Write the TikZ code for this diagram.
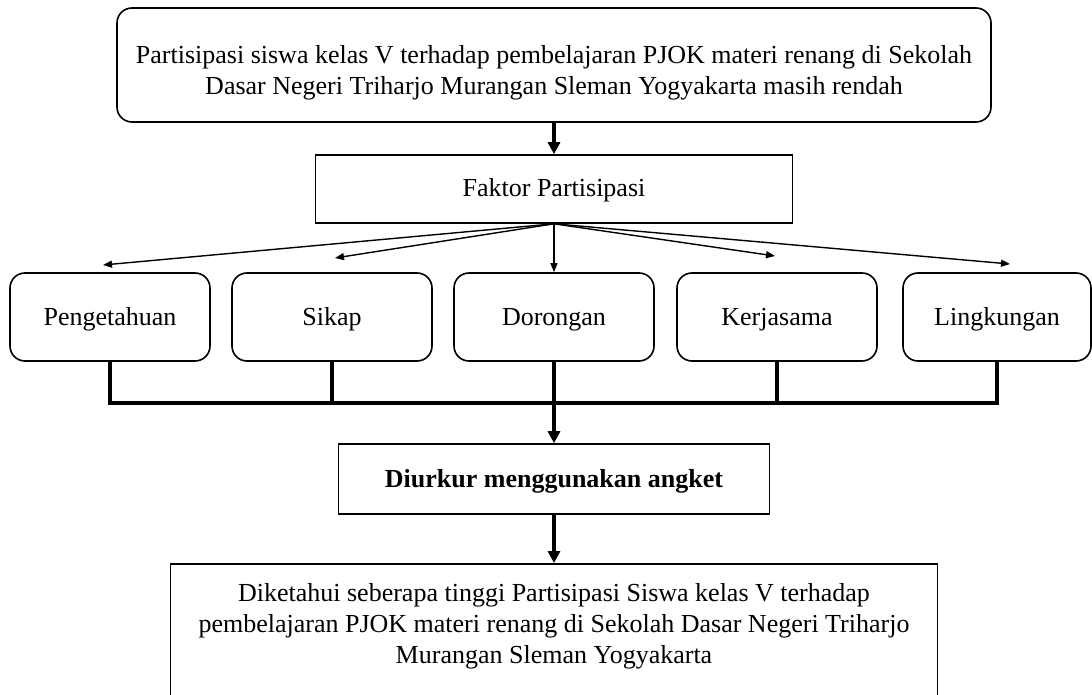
\documentclass[tikz,border=0pt]{standalone}
\usepackage{fontspec}
\setmainfont{Liberation Serif}
\usetikzlibrary{arrows.meta}

\begin{document}
\begin{tikzpicture}[x=0.5pt, y=-0.5pt,
  txt/.style={font=\fontsize{13}{15.5}\selectfont},
  rbox/.style={txt, draw, line width=0.8pt, rounded corners=7.5pt, align=center},
  sbox/.style={txt, draw, line width=0.8pt, align=center},
  fbox/.style={rbox, minimum width=100pt, minimum height=44pt, inner sep=0pt, text height=10pt, text depth=2pt},
  thin arrow/.style={line width=0.7pt, -{Triangle[length=4.5pt,width=3.5pt]}},
  thick line/.style={line width=2pt},
  thick arrow/.style={thick line, -{Triangle[length=6pt,width=6pt]}}]

\useasboundingbox (0,0) rectangle (1092,695);
\clip (0,0) rectangle (1092,695);

% Boxes
\node[rbox, minimum width=437pt, minimum height=57pt, text height=32.5pt] (masalah) at (554,65) {Partisipasi siswa kelas V terhadap pembelajaran PJOK materi renang di Sekolah\\Dasar Negeri Triharjo Murangan Sleman Yogyakarta masih rendah};

\node[sbox, minimum width=238.5pt, minimum height=34pt, text height=10pt, text depth=2pt] (faktor) at (554,189) {Faktor Partisipasi};

\node[fbox] (peng) at (110,317) {Pengetahuan};
\node[fbox] (sikap) at (332,317) {Sikap};
\node[fbox] (dor) at (554,317) {Dorongan};
\node[fbox] (kerja) at (777,317) {Kerjasama};
\node[fbox, minimum width=94pt] (ling) at (997,317) {Lingkungan};

\node[sbox, font=\fontsize{13}{15.5}\selectfont\bfseries, minimum width=215.5pt, minimum height=35pt, text height=10pt, text depth=2pt] (angket) at (554,479) {Diurkur menggunakan angket};

\node[sbox, anchor=north, minimum width=383.5pt, inner ysep=10pt, text depth=60pt] (hasil) at (554,563) {Diketahui seberapa tinggi Partisipasi Siswa kelas V terhadap\\pembelajaran PJOK materi renang di Sekolah Dasar Negeri Triharjo\\Murangan Sleman Yogyakarta};

% Arrows
\draw[thick arrow] (masalah.south) -- (faktor.north);

\coordinate (tpeng) at (103,265);
\coordinate (tsikap) at (335,258);
\coordinate (tkerja) at (775,256);
\coordinate (tling) at (1010,264);
\draw[thin arrow] (faktor.south) -- (tpeng);
\draw[thin arrow] (faktor.south) -- (tsikap);
\draw[thin arrow] (faktor.south) -- (dor.north);
\draw[thin arrow] (faktor.south) -- (tkerja);
\draw[thin arrow] (faktor.south) -- (tling);

%Lines
\coordinate (bus) at (554,403);
\draw[thick line] (peng.south) |- (bus) -| (ling.south);
\draw[thick line] (sikap.south) -- (sikap.south |- bus);
\draw[thick line] (kerja.south) -- (kerja.south |- bus);
\draw[thick arrow] (dor.south) -- (angket.north);

\draw[thick arrow] (angket.south) -- (hasil.north);
\end{tikzpicture}
\end{document}
